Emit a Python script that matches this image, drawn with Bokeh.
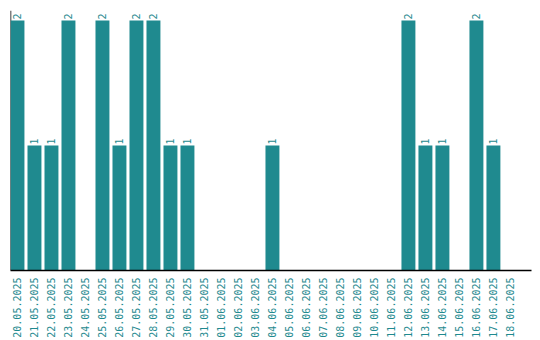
from bokeh.plotting import figure
from bokeh.models import ColumnDataSource, Range1d, FixedTicker, Span
from bokeh.core.properties import value
from bokeh.embed import file_html
from bokeh.resources import INLINE
import math

dates = ["20.05.2025", "21.05.2025", "22.05.2025", "23.05.2025", "24.05.2025",
         "25.05.2025", "26.05.2025", "27.05.2025", "28.05.2025", "29.05.2025",
         "30.05.2025", "31.05.2025", "01.06.2025", "02.06.2025", "03.06.2025",
         "04.06.2025", "05.06.2025", "06.06.2025", "07.06.2025", "08.06.2025",
         "09.06.2025", "10.06.2025", "11.06.2025", "12.06.2025", "13.06.2025",
         "14.06.2025", "15.06.2025", "16.06.2025", "17.06.2025", "18.06.2025"]
counts = [2, 1, 1, 2, 0, 2, 1, 2, 2, 1, 1, 0, 0, 0, 0, 1, 0, 0, 0, 0,
          0, 0, 0, 2, 1, 1, 0, 2, 1, 0]

BAR = "#1f8a8f"
TXT = "#1f8a8f"
FONT = "DejaVu Sans Mono"

idx = list(range(len(dates)))
src = ColumnDataSource(dict(x=idx, top=counts))
lab_x = [i for i, c in zip(idx, counts) if c > 0]
lab_y = [c for c in counts if c > 0]
lab_t = [str(c) for c in counts if c > 0]
lab = ColumnDataSource(dict(x=lab_x, y=lab_y, t=lab_t))

p = figure(width=540, height=340, output_backend="svg", toolbar_location=None,
           x_range=Range1d(-0.41, 30.24), y_range=Range1d(0, 2.08),
           y_axis_location=None, min_border_left=10, min_border_right=9,
           min_border_top=10)
p.outline_line_color = None
p.xgrid.visible = False
p.ygrid.visible = False

p.add_layout(Span(location=-0.41, dimension="height", line_color="black",
                  line_width=1.5, level="underlay"))

p.vbar(x="x", top="top", width=0.82, bottom=0, source=src,
       fill_color=BAR, line_color=None)
p.text(x="x", y="y", text="t", source=lab, angle=math.pi / 2,
       text_align="left", text_baseline="middle", y_offset=-1,
       text_color=TXT, text_font=value(FONT), text_font_size="10px")

ax = p.xaxis[0]
ax.ticker = FixedTicker(ticks=idx)
ax.major_label_overrides = {i: d for i, d in zip(idx, dates)}
ax.major_label_orientation = math.pi / 2
ax.major_tick_line_color = None
ax.minor_tick_line_color = None
ax.major_tick_out = 0
ax.major_tick_in = 0
ax.major_label_standoff = 7
ax.axis_line_color = "black"
ax.axis_line_width = 1.5
ax.major_label_text_color = TXT
ax.major_label_text_font = FONT
ax.major_label_text_font_size = "10px"

open("out.html", "w").write(file_html(p, INLINE))
